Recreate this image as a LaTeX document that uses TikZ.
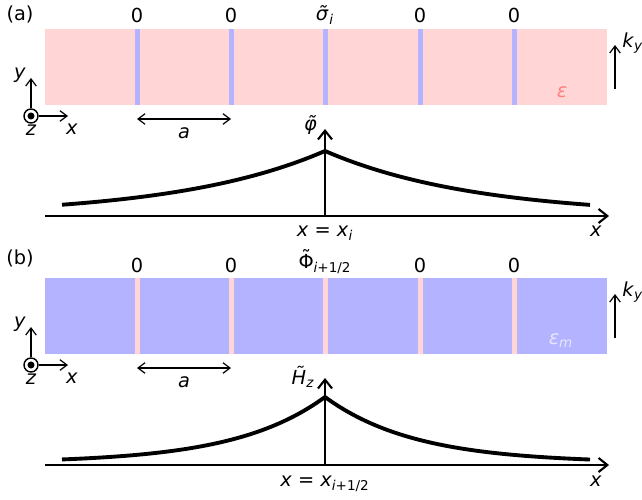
\documentclass[tikz,border=0pt]{standalone}
\usepackage{fontspec}
\setmainfont{DejaVu Sans}
\usetikzlibrary{arrows.meta}
\definecolor{slabpink}{HTML}{FFD5D5}
\definecolor{sheetblue}{HTML}{B3B3FF}
\definecolor{epsred}{HTML}{FF8080}
\definecolor{epslight}{HTML}{E6E6FF}
\newcommand{\vi}[1]{\textit{#1}}
\newcommand{\vsub}[1]{\textsubscript{#1}}
\newcommand{\tld}[1]{\ooalign{#1\cr\hidewidth\raisebox{0.2em}{˜}\hidewidth\cr}}

\begin{document}
\begin{tikzpicture}[x=0.02cm, y=-0.02cm, font=\fontsize{11}{13}\selectfont,
  axis/.style={line width=1.2pt, -{Straight Barb[length=5pt,width=8pt]}},
  thinarrow/.style={line width=0.7pt, -{Straight Barb[length=4pt,width=6pt]}},
  dblarrow/.style={line width=0.7pt, {Straight Barb[length=4pt,width=6pt]}-{Straight Barb[length=4pt,width=6pt]}},
  field/.style={line width=2.2pt},
  lbl/.style={inner sep=0pt},
  zdot/.style={draw, circle, line width=0.8pt, minimum size=0.28cm, inner sep=0pt}]
\useasboundingbox (0,0) rectangle (642,500);

% ---- (a) phi in the slabs with sheets
\node[lbl] (pa) at (20,14) {(a)};
\fill[slabpink] (45,29) rectangle (607,105);
\foreach \xs in {137,231,325,420,514}
  \fill[sheetblue] (\xs-2.5,29) rectangle (\xs+2.5,105);
\foreach \xs/\n in {137/1,231/2,420/4,514/5}
  \node[lbl] (za\n) at (\xs,15) {0};
\node[lbl] (sig) at (325,15) {\vi{σ̃}\vsub{\vi{i}}};
\node[lbl, text=epsred] (epsa) at (562,92) {\vi{ε}};
\coordinate (kya0) at (615,89);
\coordinate (kya1) at (615,45);
\draw[thinarrow] (kya0) -- (kya1);
\node[lbl, anchor=west] (kya) at (622,43) {\vi{k}\vsub{\vi{y}}};

\node[zdot] (eza) at (31,116) {};
\fill (eza.center) circle (2pt);
\coordinate (eya) at (31,78);
\coordinate (exa) at (68,116);
\draw[thinarrow] (eza.north) -- (eya);
\draw[thinarrow] (eza.east) -- (exa);
\node[lbl] (lya) at (20,75) {\vi{y}};
\node[lbl] (lxa) at (72,129) {\vi{x}};
\node[lbl] (lza) at (31,130) {\vi{z}};
\coordinate (aa0) at (137,119);
\coordinate (aa1) at (231,119);
\draw[dblarrow] (aa0) -- (aa1);
\node[lbl] (la) at (184,133) {\vi{a}};

\coordinate (xa0) at (45,216);
\coordinate (xa1) at (609,216);
\coordinate (ya0) at (325,216);
\coordinate (ya1) at (325,129);
\draw[axis] (xa0) -- (xa1);
\draw[axis] (ya0) -- (ya1);
\draw[field] plot[domain=62:325, samples=60] (\x, {216-65*exp((\x-325)/150)});
\draw[field] plot[domain=325:590, samples=60] (\x, {216-65*exp((325-\x)/150)});
\node[lbl] (phi) at (311,125) {\vi{φ̃}};
\node[lbl] (xia) at (325,233) {\vi{x} = \vi{x}\vsub{\vi{i}}};
\node[lbl] (xxa) at (596,231) {\vi{x}};

% ---- (b) H_z in the metal with gaps
\begin{scope}[shift={(0,249)}]
\node[lbl] (pb) at (20,9) {(b)};
\fill[sheetblue] (45,29) rectangle (607,105);
\foreach \xs in {137,231,325,420,514}
  \fill[slabpink] (\xs-2.5,29) rectangle (\xs+2.5,105);
\foreach \xs/\n in {137/1,231/2,420/4,514/5}
  \node[lbl] (zb\n) at (\xs,16) {0};
\node[lbl] (Phi) at (325,15) {\tld{Φ}\vsub{\vi{i}+1/2}};
\node[lbl, text=epslight] (epsb) at (561,92) {\vi{ε}\vsub{\vi{m}}};
\coordinate (kyb0) at (615,89);
\coordinate (kyb1) at (615,45);
\draw[thinarrow] (kyb0) -- (kyb1);
\node[lbl, anchor=west] (kyb) at (622,43) {\vi{k}\vsub{\vi{y}}};

\node[zdot] (ezb) at (31,116) {};
\fill (ezb.center) circle (2pt);
\coordinate (eyb) at (31,78);
\coordinate (exb) at (68,116);
\draw[thinarrow] (ezb.north) -- (eyb);
\draw[thinarrow] (ezb.east) -- (exb);
\node[lbl] (lyb) at (20,75) {\vi{y}};
\node[lbl] (lxb) at (72,129) {\vi{x}};
\node[lbl] (lzb) at (31,130) {\vi{z}};
\coordinate (ab0) at (137,119);
\coordinate (ab1) at (231,119);
\draw[dblarrow] (ab0) -- (ab1);
\node[lbl] (lb) at (184,133) {\vi{a}};

\coordinate (xb0) at (45,216);
\coordinate (xb1) at (609,216);
\coordinate (yb0) at (325,216);
\coordinate (yb1) at (325,129);
\draw[axis] (xb0) -- (xb1);
\draw[axis] (yb0) -- (yb1);
\draw[field] plot[domain=62:325, samples=60] (\x, {214-66*exp((\x-325)/90)});
\draw[field] plot[domain=325:590, samples=60] (\x, {214-66*exp((325-\x)/90)});
\node[lbl] (Hz) at (303,128) {\vi{H̃}\vsub{\vi{z}}};
\node[lbl] (xib) at (325,235) {\vi{x} = \vi{x}\vsub{\vi{i}+1/2}};
\node[lbl] (xxb) at (596,232) {\vi{x}};
\end{scope}
\end{tikzpicture}
\end{document}
